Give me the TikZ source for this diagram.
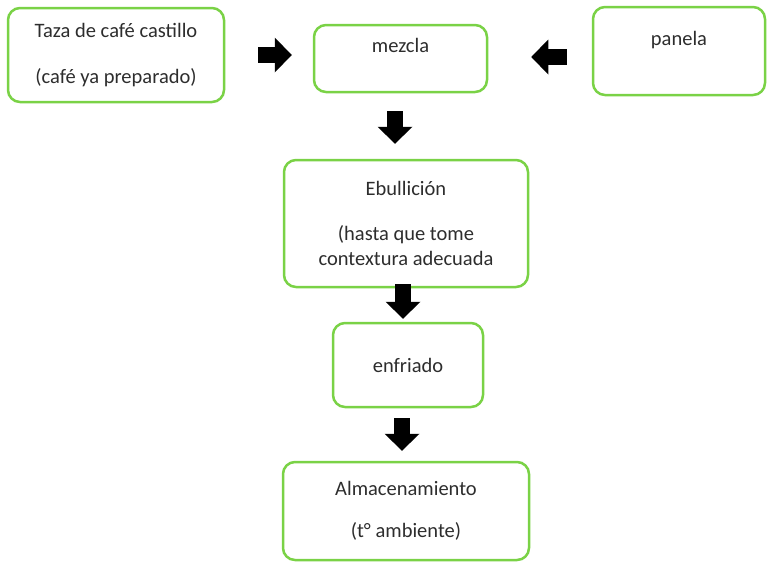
\documentclass[tikz,border=0pt]{standalone}
\usepackage{fontspec}
\setmainfont{Carlito}
\usetikzlibrary{arrows.meta}
\definecolor{boxgreen}{RGB}{122,210,70}
\definecolor{txtgray}{RGB}{45,45,45}
\begin{document}
\begin{tikzpicture}[x=1pt,y=-1pt,
  box/.style={draw=boxgreen, line width=2.5pt, rounded corners=12pt, align=center, text=txtgray,
    font=\fontsize{20.5}{25.5}\selectfont, inner sep=0pt},
  blk/.style={line width=16pt, black, -{Triangle[width=35pt,length=17pt,line width=0pt]}}]
\useasboundingbox (0,0) rectangle (767,562);
\node[box, minimum width=216pt, minimum height=94pt] (taza) at (116,55){Taza de café castillo\\[21pt](café ya preparado)};
\node[box, minimum width=173pt, minimum height=67pt] (mezcla) at (400.5,58.5){mezcla\\ \mbox{}};
\node[box, minimum width=172pt, minimum height=88pt] (panela) at (679,51){panela\\ \mbox{}};
\node[box, minimum width=244pt, minimum height=127pt] (ebull) at (406,223.5){Ebullición\\[19pt](hasta que tome\\contextura adecuada};
\node[box, minimum width=150pt, minimum height=84pt] (enfriado) at (408,365){enfriado};
\node[box, minimum width=246pt, minimum height=98pt] (almac) at (406,511){Almacenamiento\\[16pt](t° ambiente)};
\draw[blk, shorten <=33pt, shorten >=21pt](taza.east) -- (taza.east -| mezcla.west);
\draw[blk, shorten <=25pt, shorten >=43pt]([yshift=-6pt]panela.west) -- ([yshift=-6pt]panela.west -| mezcla.east);
\draw[blk, shorten <=18pt, shorten >=15pt]([xshift=-5.5pt]mezcla.south) -- ([xshift=-5.5pt]mezcla.south |- ebull.north);
\draw[blk, shorten <=-4pt, shorten >=3pt]([xshift=-3pt]ebull.south) -- ([xshift=-3pt]ebull.south |- enfriado.north);
\draw[blk, shorten <=10pt, shorten >=10pt]([xshift=-6pt]enfriado.south) -- ([xshift=-6pt]enfriado.south |- almac.north);
\end{tikzpicture}
\end{document}
